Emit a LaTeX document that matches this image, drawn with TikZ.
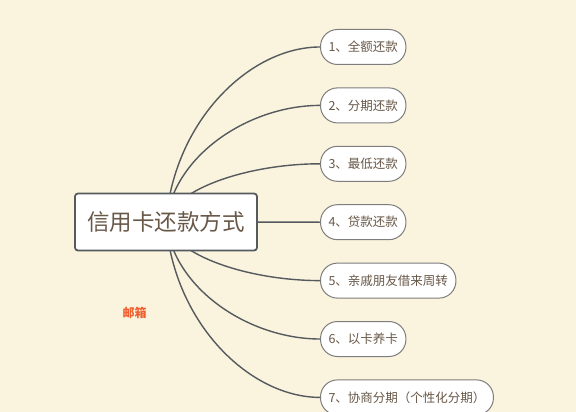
\documentclass[tikz,border=0pt]{standalone}
\usepackage{fontspec}
\newfontfamily\cjk{Noto Sans CJK SC}
\usetikzlibrary{positioning,backgrounds}
\definecolor{paper}{RGB}{250,243,221}
\definecolor{inkbrown}{RGB}{104,88,72}
\definecolor{linegray}{RGB}{85,90,94}
\definecolor{leafgray}{RGB}{125,125,125}
\definecolor{mailred}{RGB}{240,96,48}

\begin{document}
\begin{tikzpicture}[x=1pt, y=1pt,
    root/.style={draw=linegray, line width=1.8pt, fill=white, rounded corners=3pt,
        minimum width=182pt, minimum height=57pt, text=inkbrown,
        font=\cjk\fontsize{22.5}{26}\selectfont},
    leaf/.style={draw=leafgray, line width=1pt, fill=white, rounded corners=17pt,
        minimum height=35pt, inner xsep=8pt, anchor=west, text=inkbrown,
        font=\cjk\fontsize{12.5}{15}\selectfont},
    branch/.style={linegray, line width=1.4pt}
]
    \useasboundingbox (0,0) rectangle (576,-412);

    \node[root] (root) at (166,-222) {信用卡还款方式};

    \node[leaf] (n1) at (320,-47.0) {1、全额还款};
    \node[leaf] (n2) at (320,-105.4) {2、分期还款};
    \node[leaf] (n3) at (320,-163.8) {3、最低还款};
    \node[leaf] (n4) at (320,-222.2) {4、贷款还款};
    \node[leaf] (n5) at (320,-280.6) {5、亲戚朋友借来周转};
    \node[leaf] (n6) at (320,-339.0) {6、以卡养卡};
    \node[leaf] (n7) at (320,-397.4) {7、协商分期（个性化分期）};

    \node[text=mailred, font=\cjk\bfseries\fontsize{12}{14}\selectfont] (mail) at (134.5,-313) {邮箱};

    \begin{scope}[on background layer]
        \fill[paper] (0,0) rectangle (576,-412);
        % upper and lower branches
        \foreach \i/\dy in {1/175.0,2/116.6,3/58.2} {
            \draw[branch] (root.center) .. controls +(8,{0.58*\dy}) and +(-70,0) .. (n\i.west);
        }
        \foreach \i/\dy in {5/58.6,6/117.0,7/175.4} {
            \draw[branch] (root.center) .. controls +(8,{-0.58*\dy}) and +(-70,0) .. (n\i.west);
        }
        \draw[branch] (root.center) -- (n4.west);
    \end{scope}
\end{tikzpicture}
\end{document}
